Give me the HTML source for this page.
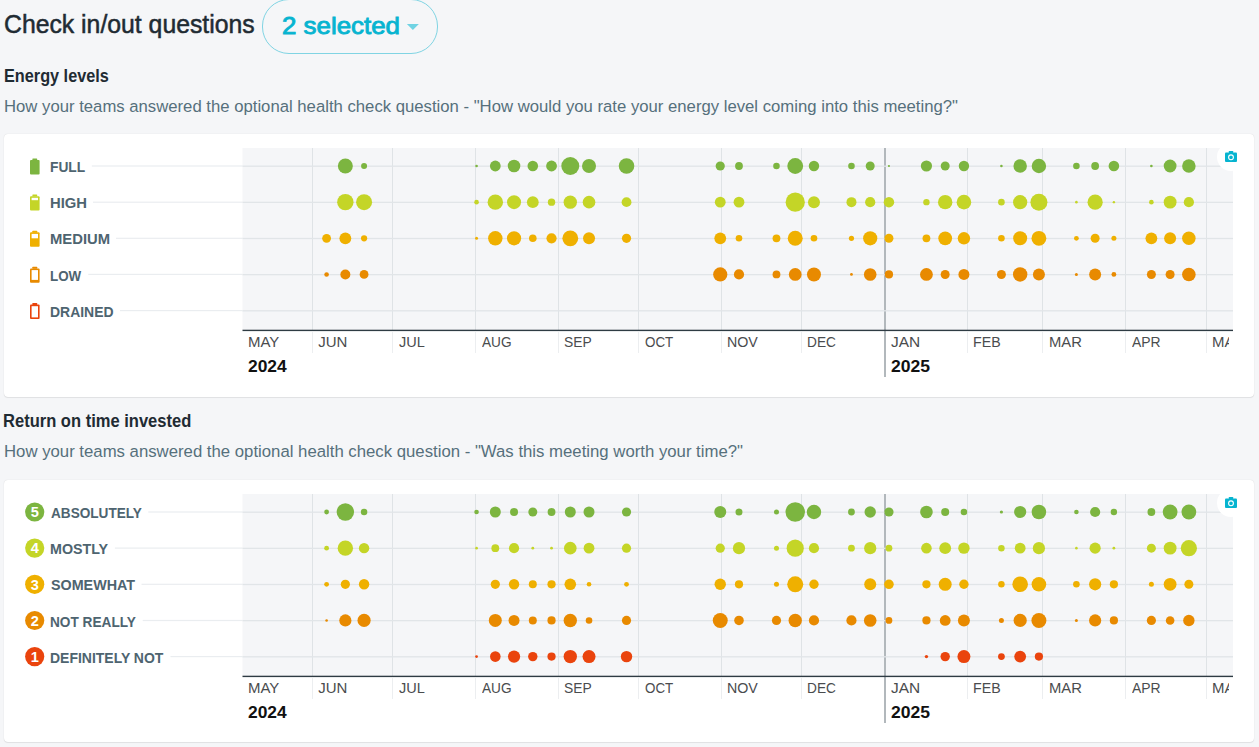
<!DOCTYPE html>
<html><head><meta charset="utf-8"><title>Check in/out questions</title>
<style>
*{box-sizing:border-box}
html,body{margin:0;padding:0}
body{width:1259px;height:747px;overflow:hidden;background:#f5f6f8;font-family:"Liberation Sans", sans-serif;position:relative}
.t{position:absolute;white-space:nowrap}
.card{position:absolute;left:4px;width:1250px;background:#fff;border-radius:4px;box-shadow:0 0 1px rgba(0,0,0,0.16), 0 1px 1px rgba(0,0,0,0.07)}
.ov{position:absolute;left:0;top:0}
.pill{position:absolute;left:262px;top:-1px;width:176px;height:55px;border:1px solid #80d4e3;border-radius:27px}
</style></head><body>
<div class="t" style="left:3.81px;top:11.64px;font-size:25px;line-height:25px;color:#1f2b33;font-weight:normal;transform:scaleX(0.9911);transform-origin:0 0;-webkit-text-stroke:0.5px #1f2b33;">Check in/out questions</div>
<div class="pill"></div>
<div class="t" style="left:282.13px;top:14.06px;font-size:24.5px;line-height:24.5px;color:#06b4d0;font-weight:normal;transform:scaleX(1.0564);transform-origin:0 0;-webkit-text-stroke:0.9px #06b4d0;">2 selected</div>
<svg class="ov" width="1259" height="60" viewBox="0 0 1259 60" style="height:60px"><path d="M406.9 23.9 L418.9 23.9 L412.9 29.9 Z" fill="#70d3e3"/></svg>
<div class="t" style="left:3.78px;top:68.04px;font-size:17.5px;line-height:17.5px;color:#1f2b33;font-weight:bold;transform:scaleX(0.9288);transform-origin:0 0;">Energy levels</div>
<div class="t" style="left:3.81px;top:98.63px;font-size:16.8px;line-height:16.8px;color:#56707c;font-weight:normal;transform:scaleX(0.9951);transform-origin:0 0;">How your teams answered the optional health check question - "How would you rate your energy level coming into this meeting?"</div>
<div class="card" style="top:134px;height:263px"></div>
<svg class="ov" width="1259" height="747" viewBox="0 0 1259 747"><rect x="242.5" y="148" width="990.5" height="182" fill="#f5f6f8"/><rect x="312.0" y="148" width="1" height="182" fill="#dfe3e6"/><rect x="312.0" y="332" width="1" height="21" fill="#eceef0"/><rect x="392.0" y="148" width="1" height="182" fill="#dfe3e6"/><rect x="392.0" y="332" width="1" height="21" fill="#eceef0"/><rect x="475.0" y="148" width="1" height="182" fill="#dfe3e6"/><rect x="475.0" y="332" width="1" height="21" fill="#eceef0"/><rect x="558.0" y="148" width="1" height="182" fill="#dfe3e6"/><rect x="558.0" y="332" width="1" height="21" fill="#eceef0"/><rect x="638.0" y="148" width="1" height="182" fill="#dfe3e6"/><rect x="638.0" y="332" width="1" height="21" fill="#eceef0"/><rect x="721.0" y="148" width="1" height="182" fill="#dfe3e6"/><rect x="721.0" y="332" width="1" height="21" fill="#eceef0"/><rect x="801.0" y="148" width="1" height="182" fill="#dfe3e6"/><rect x="801.0" y="332" width="1" height="21" fill="#eceef0"/><rect x="884" y="148" width="2" height="229" fill="#b2b8bc"/><rect x="967.0" y="148" width="1" height="182" fill="#dfe3e6"/><rect x="967.0" y="332" width="1" height="21" fill="#eceef0"/><rect x="1042.0" y="148" width="1" height="182" fill="#dfe3e6"/><rect x="1042.0" y="332" width="1" height="21" fill="#eceef0"/><rect x="1125.0" y="148" width="1" height="182" fill="#dfe3e6"/><rect x="1125.0" y="332" width="1" height="21" fill="#eceef0"/><rect x="1206.0" y="148" width="1" height="182" fill="#dfe3e6"/><rect x="1206.0" y="332" width="1" height="21" fill="#eceef0"/><rect x="91.8" y="165.4" width="150.7" height="1.2" fill="#eaedf0"/><rect x="242.5" y="165.55" width="990.5" height="1.3" fill="#e1e5e8"/><rect x="93" y="201.6" width="149.5" height="1.2" fill="#eaedf0"/><rect x="242.5" y="201.70" width="990.5" height="1.3" fill="#e1e5e8"/><rect x="116" y="237.7" width="126.5" height="1.2" fill="#eaedf0"/><rect x="242.5" y="237.85" width="990.5" height="1.3" fill="#e1e5e8"/><rect x="88.3" y="273.8" width="154.2" height="1.2" fill="#eaedf0"/><rect x="242.5" y="274.00" width="990.5" height="1.3" fill="#e1e5e8"/><rect x="120" y="310.0" width="122.5" height="1.2" fill="#eaedf0"/><rect x="242.5" y="310.15" width="990.5" height="1.3" fill="#e1e5e8"/><rect x="242.5" y="329.7" width="990.5" height="1.4" fill="#2e3b43"/><circle cx="345.35" cy="166.00" r="7.5" fill="#7cb540"/><circle cx="364.09" cy="166.00" r="3" fill="#7cb540"/><circle cx="476.56" cy="166.00" r="1.3" fill="#7cb540"/><circle cx="495.31" cy="166.00" r="5.4" fill="#7cb540"/><circle cx="514.05" cy="166.00" r="6.3" fill="#7cb540"/><circle cx="532.80" cy="166.00" r="5.3" fill="#7cb540"/><circle cx="551.54" cy="166.00" r="5.4" fill="#7cb540"/><circle cx="570.29" cy="166.00" r="9" fill="#7cb540"/><circle cx="589.03" cy="166.00" r="7" fill="#7cb540"/><circle cx="626.52" cy="166.00" r="7.8" fill="#7cb540"/><circle cx="720.25" cy="166.00" r="4.6" fill="#7cb540"/><circle cx="738.99" cy="166.00" r="3.9" fill="#7cb540"/><circle cx="776.48" cy="166.00" r="3.3" fill="#7cb540"/><circle cx="795.23" cy="166.00" r="7.9" fill="#7cb540"/><circle cx="813.97" cy="166.00" r="5.2" fill="#7cb540"/><circle cx="851.46" cy="166.00" r="3.3" fill="#7cb540"/><circle cx="870.21" cy="166.00" r="4.5" fill="#7cb540"/><circle cx="888.95" cy="166.00" r="1.1" fill="#7cb540"/><circle cx="926.44" cy="166.00" r="5.6" fill="#7cb540"/><circle cx="945.19" cy="166.00" r="4.5" fill="#7cb540"/><circle cx="963.93" cy="166.00" r="5.2" fill="#7cb540"/><circle cx="1001.42" cy="166.00" r="1.3" fill="#7cb540"/><circle cx="1020.17" cy="166.00" r="6.75" fill="#7cb540"/><circle cx="1038.91" cy="166.00" r="7.2" fill="#7cb540"/><circle cx="1076.40" cy="166.00" r="3.3" fill="#7cb540"/><circle cx="1095.14" cy="166.00" r="3.9" fill="#7cb540"/><circle cx="1113.89" cy="166.00" r="5.3" fill="#7cb540"/><circle cx="1151.38" cy="166.00" r="1.3" fill="#7cb540"/><circle cx="1170.12" cy="166.00" r="6.4" fill="#7cb540"/><circle cx="1188.87" cy="166.00" r="6.75" fill="#7cb540"/><circle cx="345.35" cy="202.15" r="8.2" fill="#c4d527"/><circle cx="364.09" cy="202.15" r="8" fill="#c4d527"/><circle cx="476.56" cy="202.15" r="2.3" fill="#c4d527"/><circle cx="495.31" cy="202.15" r="7.7" fill="#c4d527"/><circle cx="514.05" cy="202.15" r="7" fill="#c4d527"/><circle cx="532.80" cy="202.15" r="5.9" fill="#c4d527"/><circle cx="551.54" cy="202.15" r="3.7" fill="#c4d527"/><circle cx="570.29" cy="202.15" r="6.7" fill="#c4d527"/><circle cx="589.03" cy="202.15" r="6.3" fill="#c4d527"/><circle cx="626.52" cy="202.15" r="4.9" fill="#c4d527"/><circle cx="720.25" cy="202.15" r="5.4" fill="#c4d527"/><circle cx="738.99" cy="202.15" r="5.4" fill="#c4d527"/><circle cx="795.23" cy="202.15" r="9.6" fill="#c4d527"/><circle cx="813.97" cy="202.15" r="6" fill="#c4d527"/><circle cx="851.46" cy="202.15" r="5" fill="#c4d527"/><circle cx="870.21" cy="202.15" r="5.1" fill="#c4d527"/><circle cx="888.95" cy="202.15" r="5.25" fill="#c4d527"/><circle cx="926.44" cy="202.15" r="3.2" fill="#c4d527"/><circle cx="945.19" cy="202.15" r="7.2" fill="#c4d527"/><circle cx="963.93" cy="202.15" r="7.3" fill="#c4d527"/><circle cx="1001.42" cy="202.15" r="3.3" fill="#c4d527"/><circle cx="1020.17" cy="202.15" r="7.1" fill="#c4d527"/><circle cx="1038.91" cy="202.15" r="8.5" fill="#c4d527"/><circle cx="1076.40" cy="202.15" r="1.3" fill="#c4d527"/><circle cx="1095.14" cy="202.15" r="7.6" fill="#c4d527"/><circle cx="1113.89" cy="202.15" r="1.2" fill="#c4d527"/><circle cx="1151.38" cy="202.15" r="2.3" fill="#c4d527"/><circle cx="1170.12" cy="202.15" r="6.4" fill="#c4d527"/><circle cx="1188.87" cy="202.15" r="5.1" fill="#c4d527"/><circle cx="326.60" cy="238.30" r="4.4" fill="#efb000"/><circle cx="345.35" cy="238.30" r="5.9" fill="#efb000"/><circle cx="364.09" cy="238.30" r="3.1" fill="#efb000"/><circle cx="476.56" cy="238.30" r="1.5" fill="#efb000"/><circle cx="495.31" cy="238.30" r="7.2" fill="#efb000"/><circle cx="514.05" cy="238.30" r="7.1" fill="#efb000"/><circle cx="532.80" cy="238.30" r="3.8" fill="#efb000"/><circle cx="551.54" cy="238.30" r="5.1" fill="#efb000"/><circle cx="570.29" cy="238.30" r="7.9" fill="#efb000"/><circle cx="589.03" cy="238.30" r="6" fill="#efb000"/><circle cx="626.52" cy="238.30" r="4.6" fill="#efb000"/><circle cx="720.25" cy="238.30" r="5.9" fill="#efb000"/><circle cx="738.99" cy="238.30" r="3.3" fill="#efb000"/><circle cx="776.48" cy="238.30" r="3.9" fill="#efb000"/><circle cx="795.23" cy="238.30" r="7.5" fill="#efb000"/><circle cx="813.97" cy="238.30" r="3.3" fill="#efb000"/><circle cx="851.46" cy="238.30" r="2.6" fill="#efb000"/><circle cx="870.21" cy="238.30" r="7.1" fill="#efb000"/><circle cx="888.95" cy="238.30" r="4.5" fill="#efb000"/><circle cx="926.44" cy="238.30" r="3.9" fill="#efb000"/><circle cx="945.19" cy="238.30" r="6.9" fill="#efb000"/><circle cx="963.93" cy="238.30" r="6.2" fill="#efb000"/><circle cx="1001.42" cy="238.30" r="3.3" fill="#efb000"/><circle cx="1020.17" cy="238.30" r="7" fill="#efb000"/><circle cx="1038.91" cy="238.30" r="7.4" fill="#efb000"/><circle cx="1076.40" cy="238.30" r="2.4" fill="#efb000"/><circle cx="1095.14" cy="238.30" r="4.5" fill="#efb000"/><circle cx="1113.89" cy="238.30" r="2.5" fill="#efb000"/><circle cx="1151.38" cy="238.30" r="5.9" fill="#efb000"/><circle cx="1170.12" cy="238.30" r="6" fill="#efb000"/><circle cx="1188.87" cy="238.30" r="6.75" fill="#efb000"/><circle cx="326.60" cy="274.45" r="2.3" fill="#e88a00"/><circle cx="345.35" cy="274.45" r="5" fill="#e88a00"/><circle cx="364.09" cy="274.45" r="4.4" fill="#e88a00"/><circle cx="720.25" cy="274.45" r="7.1" fill="#e88a00"/><circle cx="738.99" cy="274.45" r="5.1" fill="#e88a00"/><circle cx="776.48" cy="274.45" r="3.9" fill="#e88a00"/><circle cx="795.23" cy="274.45" r="6.4" fill="#e88a00"/><circle cx="813.97" cy="274.45" r="7" fill="#e88a00"/><circle cx="851.46" cy="274.45" r="1.4" fill="#e88a00"/><circle cx="870.21" cy="274.45" r="6.3" fill="#e88a00"/><circle cx="888.95" cy="274.45" r="4.1" fill="#e88a00"/><circle cx="926.44" cy="274.45" r="6.4" fill="#e88a00"/><circle cx="945.19" cy="274.45" r="4.5" fill="#e88a00"/><circle cx="963.93" cy="274.45" r="5.5" fill="#e88a00"/><circle cx="1001.42" cy="274.45" r="4.5" fill="#e88a00"/><circle cx="1020.17" cy="274.45" r="7.2" fill="#e88a00"/><circle cx="1038.91" cy="274.45" r="6" fill="#e88a00"/><circle cx="1076.40" cy="274.45" r="1.5" fill="#e88a00"/><circle cx="1095.14" cy="274.45" r="6" fill="#e88a00"/><circle cx="1113.89" cy="274.45" r="2.4" fill="#e88a00"/><circle cx="1151.38" cy="274.45" r="4.5" fill="#e88a00"/><circle cx="1170.12" cy="274.45" r="4.5" fill="#e88a00"/><circle cx="1188.87" cy="274.45" r="6.8" fill="#e88a00"/><rect x="32.4" y="158.4" width="4.8" height="2" rx="0.5" fill="#7cb540"/><rect x="30.0" y="160.0" width="9.6" height="14.4" rx="1" fill="#7cb540"/><rect x="32.4" y="194.6" width="4.8" height="2" rx="0.5" fill="#c4d527"/><rect x="30.0" y="196.2" width="9.6" height="14.4" rx="1" fill="#c4d527"/><rect x="31.6" y="197.8" width="6.4" height="2.4" fill="#fff"/><rect x="32.4" y="230.7" width="4.8" height="2" rx="0.5" fill="#efb000"/><rect x="30.0" y="232.3" width="9.6" height="14.4" rx="1" fill="#efb000"/><rect x="31.6" y="233.9" width="6.4" height="4.4" fill="#fff"/><rect x="32.4" y="266.8" width="4.8" height="2" rx="0.5" fill="#e88a00"/><rect x="30.0" y="268.4" width="9.6" height="14.4" rx="1" fill="#e88a00"/><rect x="31.6" y="270.1" width="6.4" height="9.8" fill="#fff"/><rect x="32.4" y="303.0" width="4.8" height="2" rx="0.5" fill="#ea440d"/><rect x="30.0" y="304.6" width="9.6" height="14.4" rx="1" fill="#ea440d"/><rect x="31.6" y="306.2" width="6.4" height="11.2" fill="#fff"/><circle cx="1231" cy="157" r="14" fill="#fff"/><rect x="1228.8" y="150.9" width="4.4" height="2.2" rx="0.6" fill="#06b4d0"/><rect x="1225" y="152.4" width="12" height="9.6" rx="1" fill="#06b4d0"/><circle cx="1231" cy="157.3" r="2.4" fill="none" stroke="#fff" stroke-width="1.1"/></svg>
<div class="t" style="left:50.01px;top:159.18px;font-size:15.5px;line-height:15.5px;color:#4e6470;font-weight:bold;transform:scaleX(0.8891);transform-origin:0 0;">FULL</div>
<div class="t" style="left:49.95px;top:195.33px;font-size:15.5px;line-height:15.5px;color:#4e6470;font-weight:bold;transform:scaleX(0.9549);transform-origin:0 0;">HIGH</div>
<div class="t" style="left:49.95px;top:231.48px;font-size:15.5px;line-height:15.5px;color:#4e6470;font-weight:bold;transform:scaleX(0.9549);transform-origin:0 0;">MEDIUM</div>
<div class="t" style="left:50.04px;top:267.63px;font-size:15.5px;line-height:15.5px;color:#4e6470;font-weight:bold;transform:scaleX(0.8630);transform-origin:0 0;">LOW</div>
<div class="t" style="left:50.00px;top:303.78px;font-size:15.5px;line-height:15.5px;color:#4e6470;font-weight:bold;transform:scaleX(0.8997);transform-origin:0 0;">DRAINED</div>
<div class="t" style="left:247.70px;top:333.70px;font-size:15px;line-height:15px;color:#4a4c4e;font-weight:normal;transform:scaleX(0.9971);transform-origin:0 0;">MAY</div>
<div class="t" style="left:318.20px;top:333.70px;font-size:15px;line-height:15px;color:#4a4c4e;font-weight:normal;">JUN</div>
<div class="t" style="left:398.61px;top:333.70px;font-size:15px;line-height:15px;color:#4a4c4e;font-weight:normal;transform:scaleX(0.9680);transform-origin:0 0;">JUL</div>
<div class="t" style="left:481.90px;top:333.70px;font-size:15px;line-height:15px;color:#4a4c4e;font-weight:normal;transform:scaleX(0.9097);transform-origin:0 0;">AUG</div>
<div class="t" style="left:563.95px;top:333.70px;font-size:15px;line-height:15px;color:#4a4c4e;font-weight:normal;transform:scaleX(0.9230);transform-origin:0 0;">SEP</div>
<div class="t" style="left:644.98px;top:333.70px;font-size:15px;line-height:15px;color:#4a4c4e;font-weight:normal;transform:scaleX(0.8925);transform-origin:0 0;">OCT</div>
<div class="t" style="left:727.06px;top:333.70px;font-size:15px;line-height:15px;color:#4a4c4e;font-weight:normal;transform:scaleX(0.9489);transform-origin:0 0;">NOV</div>
<div class="t" style="left:807.31px;top:333.70px;font-size:15px;line-height:15px;color:#4a4c4e;font-weight:normal;transform:scaleX(0.9119);transform-origin:0 0;">DEC</div>
<div class="t" style="left:890.89px;top:333.70px;font-size:15px;line-height:15px;color:#4a4c4e;font-weight:normal;transform:scaleX(1.0294);transform-origin:0 0;">JAN</div>
<div class="t" style="left:973.36px;top:333.70px;font-size:15px;line-height:15px;color:#4a4c4e;font-weight:normal;transform:scaleX(0.9462);transform-origin:0 0;">FEB</div>
<div class="t" style="left:1048.62px;top:333.70px;font-size:15px;line-height:15px;color:#4a4c4e;font-weight:normal;transform:scaleX(0.9873);transform-origin:0 0;">MAR</div>
<div class="t" style="left:1132.10px;top:333.70px;font-size:15px;line-height:15px;color:#4a4c4e;font-weight:normal;transform:scaleX(0.9269);transform-origin:0 0;">APR</div>
<div class="t" style="left:1211.60px;top:333.70px;font-size:15px;line-height:15px;color:#4a4c4e;font-weight:normal;transform:scaleX(0.9971);transform-origin:0 0;width:16.8px;overflow:hidden;">MAY</div>
<div class="t" style="left:248.37px;top:358.03px;font-size:16.5px;line-height:16.5px;color:#111;font-weight:bold;transform:scaleX(1.0545);transform-origin:0 0;">2024</div>
<div class="t" style="left:890.77px;top:358.03px;font-size:16.5px;line-height:16.5px;color:#111;font-weight:bold;transform:scaleX(1.0634);transform-origin:0 0;">2025</div>
<div class="t" style="left:3.36px;top:412.79px;font-size:17.5px;line-height:17.5px;color:#1f2b33;font-weight:bold;transform:scaleX(0.9445);transform-origin:0 0;">Return on time invested</div>
<div class="t" style="left:3.80px;top:443.63px;font-size:16.8px;line-height:16.8px;color:#56707c;font-weight:normal;transform:scaleX(0.9977);transform-origin:0 0;">How your teams answered the optional health check question - "Was this meeting worth your time?"</div>
<div class="card" style="top:480px;height:262px"></div>
<svg class="ov" width="1259" height="747" viewBox="0 0 1259 747"><rect x="242.5" y="494" width="990.5" height="182" fill="#f5f6f8"/><rect x="312.0" y="494" width="1" height="182" fill="#dfe3e6"/><rect x="312.0" y="678" width="1" height="21" fill="#eceef0"/><rect x="392.0" y="494" width="1" height="182" fill="#dfe3e6"/><rect x="392.0" y="678" width="1" height="21" fill="#eceef0"/><rect x="475.0" y="494" width="1" height="182" fill="#dfe3e6"/><rect x="475.0" y="678" width="1" height="21" fill="#eceef0"/><rect x="558.0" y="494" width="1" height="182" fill="#dfe3e6"/><rect x="558.0" y="678" width="1" height="21" fill="#eceef0"/><rect x="638.0" y="494" width="1" height="182" fill="#dfe3e6"/><rect x="638.0" y="678" width="1" height="21" fill="#eceef0"/><rect x="721.0" y="494" width="1" height="182" fill="#dfe3e6"/><rect x="721.0" y="678" width="1" height="21" fill="#eceef0"/><rect x="801.0" y="494" width="1" height="182" fill="#dfe3e6"/><rect x="801.0" y="678" width="1" height="21" fill="#eceef0"/><rect x="884" y="494" width="2" height="229" fill="#b2b8bc"/><rect x="967.0" y="494" width="1" height="182" fill="#dfe3e6"/><rect x="967.0" y="678" width="1" height="21" fill="#eceef0"/><rect x="1042.0" y="494" width="1" height="182" fill="#dfe3e6"/><rect x="1042.0" y="678" width="1" height="21" fill="#eceef0"/><rect x="1125.0" y="494" width="1" height="182" fill="#dfe3e6"/><rect x="1125.0" y="678" width="1" height="21" fill="#eceef0"/><rect x="1206.0" y="494" width="1" height="182" fill="#dfe3e6"/><rect x="1206.0" y="678" width="1" height="21" fill="#eceef0"/><rect x="148.3" y="511.4" width="94.19999999999999" height="1.2" fill="#eaedf0"/><rect x="242.5" y="511.55" width="990.5" height="1.3" fill="#e1e5e8"/><rect x="114.9" y="547.5" width="127.6" height="1.2" fill="#eaedf0"/><rect x="242.5" y="547.70" width="990.5" height="1.3" fill="#e1e5e8"/><rect x="141.5" y="583.7" width="101.0" height="1.2" fill="#eaedf0"/><rect x="242.5" y="583.85" width="990.5" height="1.3" fill="#e1e5e8"/><rect x="142.7" y="619.9" width="99.80000000000001" height="1.2" fill="#eaedf0"/><rect x="242.5" y="620.00" width="990.5" height="1.3" fill="#e1e5e8"/><rect x="170.5" y="656.0" width="72.0" height="1.2" fill="#eaedf0"/><rect x="242.5" y="656.15" width="990.5" height="1.3" fill="#e1e5e8"/><rect x="242.5" y="675.7" width="990.5" height="1.4" fill="#2e3b43"/><circle cx="326.60" cy="512.00" r="2.4" fill="#7cb540"/><circle cx="345.35" cy="512.00" r="8.7" fill="#7cb540"/><circle cx="364.09" cy="512.00" r="3.25" fill="#7cb540"/><circle cx="476.56" cy="512.00" r="2.3" fill="#7cb540"/><circle cx="495.31" cy="512.00" r="5.5" fill="#7cb540"/><circle cx="514.05" cy="512.00" r="4" fill="#7cb540"/><circle cx="532.80" cy="512.00" r="4.5" fill="#7cb540"/><circle cx="551.54" cy="512.00" r="3.9" fill="#7cb540"/><circle cx="570.29" cy="512.00" r="5.5" fill="#7cb540"/><circle cx="589.03" cy="512.00" r="5.5" fill="#7cb540"/><circle cx="626.52" cy="512.00" r="4.6" fill="#7cb540"/><circle cx="720.25" cy="512.00" r="6" fill="#7cb540"/><circle cx="738.99" cy="512.00" r="3.5" fill="#7cb540"/><circle cx="776.48" cy="512.00" r="2.5" fill="#7cb540"/><circle cx="795.23" cy="512.00" r="9.75" fill="#7cb540"/><circle cx="813.97" cy="512.00" r="7.2" fill="#7cb540"/><circle cx="851.46" cy="512.00" r="3.4" fill="#7cb540"/><circle cx="870.21" cy="512.00" r="5.7" fill="#7cb540"/><circle cx="888.95" cy="512.00" r="4.6" fill="#7cb540"/><circle cx="926.44" cy="512.00" r="6.3" fill="#7cb540"/><circle cx="945.19" cy="512.00" r="4" fill="#7cb540"/><circle cx="963.93" cy="512.00" r="3.25" fill="#7cb540"/><circle cx="1001.42" cy="512.00" r="1.6" fill="#7cb540"/><circle cx="1020.17" cy="512.00" r="6.1" fill="#7cb540"/><circle cx="1038.91" cy="512.00" r="7.3" fill="#7cb540"/><circle cx="1076.40" cy="512.00" r="2.3" fill="#7cb540"/><circle cx="1095.14" cy="512.00" r="5.1" fill="#7cb540"/><circle cx="1113.89" cy="512.00" r="3.2" fill="#7cb540"/><circle cx="1151.38" cy="512.00" r="3.9" fill="#7cb540"/><circle cx="1170.12" cy="512.00" r="7.4" fill="#7cb540"/><circle cx="1188.87" cy="512.00" r="7.4" fill="#7cb540"/><circle cx="326.60" cy="548.15" r="2.4" fill="#c4d527"/><circle cx="345.35" cy="548.15" r="7.7" fill="#c4d527"/><circle cx="364.09" cy="548.15" r="5.2" fill="#c4d527"/><circle cx="476.56" cy="548.15" r="1.3" fill="#c4d527"/><circle cx="495.31" cy="548.15" r="3.9" fill="#c4d527"/><circle cx="514.05" cy="548.15" r="5.1" fill="#c4d527"/><circle cx="532.80" cy="548.15" r="1.4" fill="#c4d527"/><circle cx="551.54" cy="548.15" r="1.4" fill="#c4d527"/><circle cx="570.29" cy="548.15" r="6.3" fill="#c4d527"/><circle cx="589.03" cy="548.15" r="5.4" fill="#c4d527"/><circle cx="626.52" cy="548.15" r="4.6" fill="#c4d527"/><circle cx="720.25" cy="548.15" r="4.6" fill="#c4d527"/><circle cx="738.99" cy="548.15" r="6.1" fill="#c4d527"/><circle cx="776.48" cy="548.15" r="2.5" fill="#c4d527"/><circle cx="795.23" cy="548.15" r="8.6" fill="#c4d527"/><circle cx="813.97" cy="548.15" r="5.1" fill="#c4d527"/><circle cx="851.46" cy="548.15" r="3.4" fill="#c4d527"/><circle cx="870.21" cy="548.15" r="6.1" fill="#c4d527"/><circle cx="888.95" cy="548.15" r="3.4" fill="#c4d527"/><circle cx="926.44" cy="548.15" r="5.3" fill="#c4d527"/><circle cx="945.19" cy="548.15" r="5.9" fill="#c4d527"/><circle cx="963.93" cy="548.15" r="5.7" fill="#c4d527"/><circle cx="1001.42" cy="548.15" r="3.25" fill="#c4d527"/><circle cx="1020.17" cy="548.15" r="5.4" fill="#c4d527"/><circle cx="1038.91" cy="548.15" r="6.1" fill="#c4d527"/><circle cx="1076.40" cy="548.15" r="1.3" fill="#c4d527"/><circle cx="1095.14" cy="548.15" r="5.6" fill="#c4d527"/><circle cx="1113.89" cy="548.15" r="1.4" fill="#c4d527"/><circle cx="1151.38" cy="548.15" r="4.5" fill="#c4d527"/><circle cx="1170.12" cy="548.15" r="6.4" fill="#c4d527"/><circle cx="1188.87" cy="548.15" r="8.1" fill="#c4d527"/><circle cx="326.60" cy="584.30" r="2.4" fill="#efb000"/><circle cx="345.35" cy="584.30" r="4.6" fill="#efb000"/><circle cx="364.09" cy="584.30" r="5.2" fill="#efb000"/><circle cx="495.31" cy="584.30" r="4.6" fill="#efb000"/><circle cx="514.05" cy="584.30" r="5.2" fill="#efb000"/><circle cx="532.80" cy="584.30" r="4" fill="#efb000"/><circle cx="551.54" cy="584.30" r="4.1" fill="#efb000"/><circle cx="570.29" cy="584.30" r="5.8" fill="#efb000"/><circle cx="589.03" cy="584.30" r="2.3" fill="#efb000"/><circle cx="626.52" cy="584.30" r="2.4" fill="#efb000"/><circle cx="720.25" cy="584.30" r="5.7" fill="#efb000"/><circle cx="738.99" cy="584.30" r="4.1" fill="#efb000"/><circle cx="776.48" cy="584.30" r="2.5" fill="#efb000"/><circle cx="795.23" cy="584.30" r="8" fill="#efb000"/><circle cx="813.97" cy="584.30" r="4.7" fill="#efb000"/><circle cx="870.21" cy="584.30" r="6" fill="#efb000"/><circle cx="888.95" cy="584.30" r="4.8" fill="#efb000"/><circle cx="926.44" cy="584.30" r="4.1" fill="#efb000"/><circle cx="945.19" cy="584.30" r="6.5" fill="#efb000"/><circle cx="963.93" cy="584.30" r="4.7" fill="#efb000"/><circle cx="1001.42" cy="584.30" r="3.25" fill="#efb000"/><circle cx="1020.17" cy="584.30" r="7.8" fill="#efb000"/><circle cx="1038.91" cy="584.30" r="7.3" fill="#efb000"/><circle cx="1076.40" cy="584.30" r="3.3" fill="#efb000"/><circle cx="1095.14" cy="584.30" r="6.1" fill="#efb000"/><circle cx="1113.89" cy="584.30" r="4.1" fill="#efb000"/><circle cx="1151.38" cy="584.30" r="2.5" fill="#efb000"/><circle cx="1170.12" cy="584.30" r="6.4" fill="#efb000"/><circle cx="1188.87" cy="584.30" r="4.5" fill="#efb000"/><circle cx="326.60" cy="620.45" r="1.3" fill="#e88a00"/><circle cx="345.35" cy="620.45" r="6.1" fill="#e88a00"/><circle cx="364.09" cy="620.45" r="6.6" fill="#e88a00"/><circle cx="495.31" cy="620.45" r="6.5" fill="#e88a00"/><circle cx="514.05" cy="620.45" r="5.5" fill="#e88a00"/><circle cx="532.80" cy="620.45" r="4" fill="#e88a00"/><circle cx="551.54" cy="620.45" r="4.1" fill="#e88a00"/><circle cx="570.29" cy="620.45" r="6.7" fill="#e88a00"/><circle cx="589.03" cy="620.45" r="3.3" fill="#e88a00"/><circle cx="626.52" cy="620.45" r="4.6" fill="#e88a00"/><circle cx="720.25" cy="620.45" r="7.5" fill="#e88a00"/><circle cx="738.99" cy="620.45" r="4.8" fill="#e88a00"/><circle cx="776.48" cy="620.45" r="4.6" fill="#e88a00"/><circle cx="795.23" cy="620.45" r="6.7" fill="#e88a00"/><circle cx="813.97" cy="620.45" r="5.1" fill="#e88a00"/><circle cx="851.46" cy="620.45" r="5.1" fill="#e88a00"/><circle cx="870.21" cy="620.45" r="6.3" fill="#e88a00"/><circle cx="888.95" cy="620.45" r="3.4" fill="#e88a00"/><circle cx="926.44" cy="620.45" r="4.1" fill="#e88a00"/><circle cx="945.19" cy="620.45" r="5.4" fill="#e88a00"/><circle cx="963.93" cy="620.45" r="6" fill="#e88a00"/><circle cx="1001.42" cy="620.45" r="2.5" fill="#e88a00"/><circle cx="1020.17" cy="620.45" r="6.6" fill="#e88a00"/><circle cx="1038.91" cy="620.45" r="7.5" fill="#e88a00"/><circle cx="1076.40" cy="620.45" r="1.5" fill="#e88a00"/><circle cx="1095.14" cy="620.45" r="6.1" fill="#e88a00"/><circle cx="1113.89" cy="620.45" r="4.1" fill="#e88a00"/><circle cx="1151.38" cy="620.45" r="4.6" fill="#e88a00"/><circle cx="1170.12" cy="620.45" r="4.3" fill="#e88a00"/><circle cx="1188.87" cy="620.45" r="5.7" fill="#e88a00"/><circle cx="476.56" cy="656.60" r="1.4" fill="#ea440d"/><circle cx="495.31" cy="656.60" r="5.3" fill="#ea440d"/><circle cx="514.05" cy="656.60" r="6.1" fill="#ea440d"/><circle cx="532.80" cy="656.60" r="4.7" fill="#ea440d"/><circle cx="551.54" cy="656.60" r="4.1" fill="#ea440d"/><circle cx="570.29" cy="656.60" r="6.7" fill="#ea440d"/><circle cx="589.03" cy="656.60" r="6.5" fill="#ea440d"/><circle cx="626.52" cy="656.60" r="5.7" fill="#ea440d"/><circle cx="926.44" cy="656.60" r="1.7" fill="#ea440d"/><circle cx="945.19" cy="656.60" r="4.7" fill="#ea440d"/><circle cx="963.93" cy="656.60" r="6.5" fill="#ea440d"/><circle cx="1001.42" cy="656.60" r="3.4" fill="#ea440d"/><circle cx="1020.17" cy="656.60" r="5.9" fill="#ea440d"/><circle cx="1038.91" cy="656.60" r="4.1" fill="#ea440d"/><circle cx="34.7" cy="512.0" r="9.6" fill="#7cb540"/><text x="34.7" y="517.2" text-anchor="middle" font-family="Liberation Sans, sans-serif" font-weight="bold" font-size="14.6" fill="#fff">5</text><circle cx="34.7" cy="548.1" r="9.6" fill="#c4d527"/><text x="34.7" y="553.4" text-anchor="middle" font-family="Liberation Sans, sans-serif" font-weight="bold" font-size="14.6" fill="#fff">4</text><circle cx="34.7" cy="584.3" r="9.6" fill="#efb000"/><text x="34.7" y="589.5" text-anchor="middle" font-family="Liberation Sans, sans-serif" font-weight="bold" font-size="14.6" fill="#fff">3</text><circle cx="34.7" cy="620.5" r="9.6" fill="#e88a00"/><text x="34.7" y="625.7" text-anchor="middle" font-family="Liberation Sans, sans-serif" font-weight="bold" font-size="14.6" fill="#fff">2</text><circle cx="34.7" cy="656.6" r="9.6" fill="#ea440d"/><text x="34.7" y="661.8" text-anchor="middle" font-family="Liberation Sans, sans-serif" font-weight="bold" font-size="14.6" fill="#fff">1</text><circle cx="1231" cy="503" r="14" fill="#fff"/><rect x="1228.8" y="496.9" width="4.4" height="2.2" rx="0.6" fill="#06b4d0"/><rect x="1225" y="498.4" width="12" height="9.6" rx="1" fill="#06b4d0"/><circle cx="1231" cy="503.3" r="2.4" fill="none" stroke="#fff" stroke-width="1.1"/></svg>
<div class="t" style="left:50.64px;top:505.18px;font-size:15.5px;line-height:15.5px;color:#4e6470;font-weight:bold;transform:scaleX(0.8769);transform-origin:0 0;">ABSOLUTELY</div>
<div class="t" style="left:49.98px;top:541.33px;font-size:15.5px;line-height:15.5px;color:#4e6470;font-weight:bold;transform:scaleX(0.9205);transform-origin:0 0;">MOSTLY</div>
<div class="t" style="left:50.53px;top:577.48px;font-size:15.5px;line-height:15.5px;color:#4e6470;font-weight:bold;transform:scaleX(0.9236);transform-origin:0 0;">SOMEWHAT</div>
<div class="t" style="left:50.02px;top:613.63px;font-size:15.5px;line-height:15.5px;color:#4e6470;font-weight:bold;transform:scaleX(0.8800);transform-origin:0 0;">NOT REALLY</div>
<div class="t" style="left:50.00px;top:649.78px;font-size:15.5px;line-height:15.5px;color:#4e6470;font-weight:bold;transform:scaleX(0.9011);transform-origin:0 0;">DEFINITELY NOT</div>
<div class="t" style="left:247.70px;top:679.70px;font-size:15px;line-height:15px;color:#4a4c4e;font-weight:normal;transform:scaleX(0.9971);transform-origin:0 0;">MAY</div>
<div class="t" style="left:318.20px;top:679.70px;font-size:15px;line-height:15px;color:#4a4c4e;font-weight:normal;">JUN</div>
<div class="t" style="left:398.61px;top:679.70px;font-size:15px;line-height:15px;color:#4a4c4e;font-weight:normal;transform:scaleX(0.9680);transform-origin:0 0;">JUL</div>
<div class="t" style="left:481.90px;top:679.70px;font-size:15px;line-height:15px;color:#4a4c4e;font-weight:normal;transform:scaleX(0.9097);transform-origin:0 0;">AUG</div>
<div class="t" style="left:563.95px;top:679.70px;font-size:15px;line-height:15px;color:#4a4c4e;font-weight:normal;transform:scaleX(0.9230);transform-origin:0 0;">SEP</div>
<div class="t" style="left:644.98px;top:679.70px;font-size:15px;line-height:15px;color:#4a4c4e;font-weight:normal;transform:scaleX(0.8925);transform-origin:0 0;">OCT</div>
<div class="t" style="left:727.06px;top:679.70px;font-size:15px;line-height:15px;color:#4a4c4e;font-weight:normal;transform:scaleX(0.9489);transform-origin:0 0;">NOV</div>
<div class="t" style="left:807.31px;top:679.70px;font-size:15px;line-height:15px;color:#4a4c4e;font-weight:normal;transform:scaleX(0.9119);transform-origin:0 0;">DEC</div>
<div class="t" style="left:890.89px;top:679.70px;font-size:15px;line-height:15px;color:#4a4c4e;font-weight:normal;transform:scaleX(1.0294);transform-origin:0 0;">JAN</div>
<div class="t" style="left:973.36px;top:679.70px;font-size:15px;line-height:15px;color:#4a4c4e;font-weight:normal;transform:scaleX(0.9462);transform-origin:0 0;">FEB</div>
<div class="t" style="left:1048.62px;top:679.70px;font-size:15px;line-height:15px;color:#4a4c4e;font-weight:normal;transform:scaleX(0.9873);transform-origin:0 0;">MAR</div>
<div class="t" style="left:1132.10px;top:679.70px;font-size:15px;line-height:15px;color:#4a4c4e;font-weight:normal;transform:scaleX(0.9269);transform-origin:0 0;">APR</div>
<div class="t" style="left:1211.60px;top:679.70px;font-size:15px;line-height:15px;color:#4a4c4e;font-weight:normal;transform:scaleX(0.9971);transform-origin:0 0;width:16.8px;overflow:hidden;">MAY</div>
<div class="t" style="left:248.37px;top:704.03px;font-size:16.5px;line-height:16.5px;color:#111;font-weight:bold;transform:scaleX(1.0545);transform-origin:0 0;">2024</div>
<div class="t" style="left:890.77px;top:704.03px;font-size:16.5px;line-height:16.5px;color:#111;font-weight:bold;transform:scaleX(1.0634);transform-origin:0 0;">2025</div>
</body></html>
